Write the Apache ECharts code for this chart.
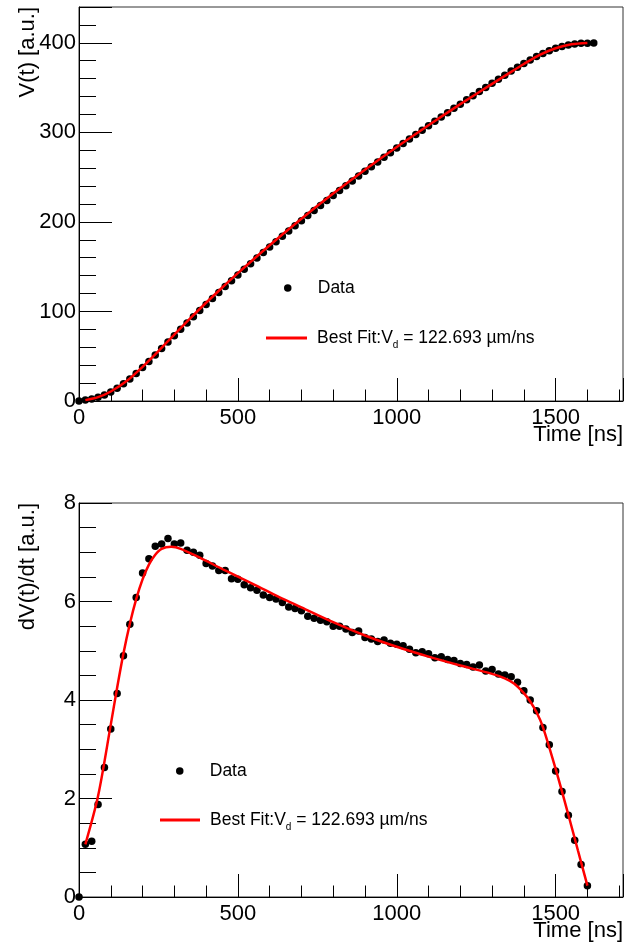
<!DOCTYPE html>
<html><head><meta charset="utf-8">
<script src="https://cdn.jsdelivr.net/npm/echarts@6/dist/echarts.min.js"></script>
<style>html,body{margin:0;padding:0;background:#fff}#c{width:627px;height:949px}</style>
</head><body><div id="c"></div>
<script>
// ---------- data ----------
const timeV = [0,20,40,60,80,100,120,140,160,180,200,220,240,260,280,300,320,340,360,380,400,420,440,460,480,500,
  520,540,560,580,600,620,640,660,680,700,720,740,760,780,800,820,840,860,880,900,920,940,960,980,1000,
  1020,1040,1060,1080,1100,1120,1140,1160,1180,1200,1220,1240,1260,1280,1300,1320,1340,1360,1380,1400,
  1420,1440,1460,1480,1500,1520,1540,1560,1580,1600,1620];
const vData = [0,1.1,2.2,4.1,6.7,10.1,
  14.3,19.2,24.7,30.8,37.4,44.2,51.3,58.5,65.8,73.0,
  80.2,87.2,94.2,101.1,107.9,114.6,121.3,127.9,134.3,140.8,
  147.1,153.4,159.6,165.8,171.9,177.9,183.9,189.8,195.6,201.4,
  207.1,212.8,218.4,224.0,229.5,235.0,240.5,245.8,251.2,256.5,
  261.7,266.9,272.1,277.3,282.4,287.5,292.6,297.5,302.5,307.4,
  312.3,317.2,322.0,326.8,331.5,336.3,340.9,345.6,350.2,354.8,
  359.4,363.9,368.4,372.7,376.9,380.9,384.7,388.1,391.2,393.8,
  395.9,397.6,398.7,399.4,399.6,399.8];
const fitVTime = [20,60,100,150,200,250,300,350,400,450,500,600,700,800,900,1000,1100,1200,1300,1350,1400,1450,1500,1550,1600];
const fitV =     [1.0,4.3,10.6,22.3,38.2,55.8,74.2,92.3,109.7,126.5,142.8,174.0,203.6,231.6,258.2,283.6,308.0,331.5,354.2,365.3,376.3,386.6,394.0,398.3,399.8];

const timeDV = [0,20,40,60,80,100,120,140,160,180,200,220,240,260,280,300,320,340,360,380,400,420,440,460,480,500,
  520,540,560,580,600,620,640,660,680,700,720,740,760,780,800,820,840,860,880,900,920,940,960,980,1000,
  1020,1040,1060,1080,1100,1120,1140,1160,1180,1200,1220,1240,1260,1280,1300,1320,1340,1360,1380,1400,
  1420,1440,1460,1480,1500,1520,1540,1560,1580,1600];
const dvData = [0,1.07,1.13,1.88,2.63,3.41,
  4.13,4.90,5.54,6.08,6.58,6.87,7.12,7.17,7.28,7.17,
  7.19,7.04,7.00,6.94,6.77,6.72,6.63,6.63,6.46,6.45,
  6.34,6.28,6.23,6.13,6.08,6.05,5.98,5.89,5.86,5.81,
  5.70,5.66,5.62,5.59,5.50,5.50,5.44,5.37,5.40,5.27,
  5.24,5.19,5.22,5.15,5.13,5.10,5.03,4.96,4.98,4.94,
  4.86,4.88,4.82,4.80,4.74,4.72,4.67,4.71,4.59,4.62,
  4.53,4.51,4.47,4.36,4.19,4.00,3.78,3.44,3.09,2.56,
  2.14,1.66,1.15,0.66,0.23];
const fitDVTime = [20,60,100,120,140,160,180,200,220,240,260,290,320,380,460,550,630,700,800,900,1000,1100,1200,1300,1340,1370,1400,1420,1440,1460,1500,1540,1570,1600];
const fitDV =     [1.07,2.05,3.50,4.25,4.95,5.55,6.05,6.45,6.75,6.95,7.07,7.11,7.07,6.89,6.63,6.35,6.09,5.88,5.58,5.31,5.08,4.88,4.70,4.53,4.44,4.33,4.14,3.97,3.75,3.45,2.60,1.67,0.95,0.23];

const xTickLabels = [0,500,1000,1500];
const vTickLabels = [0,100,200,300,400];
const dvTickLabels = [0,2,4,6,8];
const dataName = 'Data';
const fitName = 'Best Fit:Vd = 122.693 µm/ns';

// ---------- chart ----------
const FONT = '"Liberation Sans", Arial, Helvetica, sans-serif';
const pairs = (xs, ys) => xs.map((x, i) => [x, ys[i]]);

function xAxisCfg(gi) {
  return {
    type: 'value', gridIndex: gi, min: 0, max: 1712, interval: 500,
    axisLine: { show: true, onZero: false, lineStyle: { color: '#000', width: 1 } },
    axisTick: { show: true, inside: true, length: 23, lineStyle: { color: '#000', width: 1 } },
    minorTick: { show: true, splitNumber: 5, length: 11.5, lineStyle: { color: '#000', width: 1 } },
    splitLine: { show: false }, minorSplitLine: { show: false },
    axisLabel: { color: '#000', fontSize: 22, fontFamily: FONT, margin: 6,
      formatter: v => xTickLabels.includes(v) ? String(v) : '' },
    name: 'Time [ns]', nameLocation: 'end', nameGap: 0, nameMoveOverlap: false,
    nameTextStyle: { color: '#000', fontSize: 22, fontFamily: FONT, align: 'right', verticalAlign: 'top', padding: [23, 0, 0, 0] }
  };
}
function yAxisCfg(gi, max, interval, split, ticks, name) {
  return {
    type: 'value', gridIndex: gi, min: 0, max: max, interval: interval,
    axisLine: { show: true, onZero: false, lineStyle: { color: '#000', width: 1 } },
    axisTick: { show: true, inside: true, length: 33, lineStyle: { color: '#000', width: 1 } },
    minorTick: { show: true, splitNumber: split, length: 17, lineStyle: { color: '#000', width: 1 } },
    splitLine: { show: false }, minorSplitLine: { show: false },
    axisLabel: { color: '#000', fontSize: 22, fontFamily: FONT, margin: 3,
      formatter: v => ticks.includes(v) ? String(v) : '' },
    name: name, nameLocation: 'end', nameGap: 0, nameRotate: 90, nameMoveOverlap: false,
    nameTextStyle: { color: '#000', fontSize: 22, fontFamily: FONT, align: 'right', verticalAlign: 'bottom', padding: [0, 0, 40, 0] }
  };
}
const richFit = {
  a: { fontSize: 17.5, fontFamily: FONT, color: '#000' },
  sub: { fontSize: 10, fontFamily: FONT, color: '#000', padding: [14, 0, 0, 0] }
};
const fitFormatter = () => '{a|Best Fit:V}{sub|d}{a| = 122.693 µm/ns}';
function legendCfg(left, top, name, icon, w, h, padLeft, isFit) {
  return {
    left: left, top: top, padding: 0, orient: 'vertical', selectedMode: false,
    itemWidth: w, itemHeight: h,
    data: [{ name: name, icon: icon }],
    itemStyle: { borderWidth: 0, opacity: 1 },
    textStyle: isFit ? { color: '#000', fontSize: 17.5, fontFamily: FONT, padding: [0, 0, 0, padLeft], rich: richFit }
                     : { color: '#000', fontSize: 17.5, fontFamily: FONT, padding: [0, 0, 0, padLeft] },
    formatter: isFit ? fitFormatter : undefined
  };
}

const chart = echarts.init(document.getElementById('c'), null, { renderer: 'canvas' });
chart.setOption({
  backgroundColor: '#fff',
  animation: false,
  grid: [
    { left: 79, top: 7, width: 544, height: 394, show: true, borderColor: '#333', borderWidth: 1, backgroundColor: 'transparent', containLabel: false, outerBoundsMode: 'none' },
    { left: 79, top: 503, width: 544, height: 394, show: true, borderColor: '#333', borderWidth: 1, backgroundColor: 'transparent', containLabel: false, outerBoundsMode: 'none' }
  ],
  xAxis: [xAxisCfg(0), xAxisCfg(1)],
  yAxis: [
    yAxisCfg(0, 440, 100, 5, vTickLabels, 'V(t) [a.u.]'),
    yAxisCfg(1, 8, 2, 4, dvTickLabels, 'dV(t)/dt [a.u.]')
  ],
  legend: [
    legendCfg(284, 279, dataName, 'circle', 42, 7.5, 4, false),
    legendCfg(266, 329, fitName, 'rect', 41, 3, 5, true),
    legendCfg(176, 762, dataName, 'circle', 42, 7.5, 4, false),
    legendCfg(160, 811, fitName, 'rect', 40, 3, 5, true)
  ],
  series: [
    { name: dataName, type: 'scatter', xAxisIndex: 0, yAxisIndex: 0, data: pairs(timeV, vData),
      symbol: 'circle', symbolSize: 7.5, itemStyle: { color: '#000', opacity: 1 }, clip: false },
    { name: fitName, type: 'line', xAxisIndex: 0, yAxisIndex: 0, data: pairs(fitVTime, fitV),
      smooth: 0.3, showSymbol: false, symbol: 'none', lineStyle: { color: '#ff0000', width: 2.5 }, itemStyle: { color: '#ff0000' } },
    { name: dataName, type: 'scatter', xAxisIndex: 1, yAxisIndex: 1, data: pairs(timeDV, dvData),
      symbol: 'circle', symbolSize: 7.5, itemStyle: { color: '#000', opacity: 1 }, clip: false },
    { name: fitName, type: 'line', xAxisIndex: 1, yAxisIndex: 1, data: pairs(fitDVTime, fitDV),
      smooth: 0.3, showSymbol: false, symbol: 'none', lineStyle: { color: '#ff0000', width: 2.5 }, itemStyle: { color: '#ff0000' } }
  ]
});
</script>
</body></html>
